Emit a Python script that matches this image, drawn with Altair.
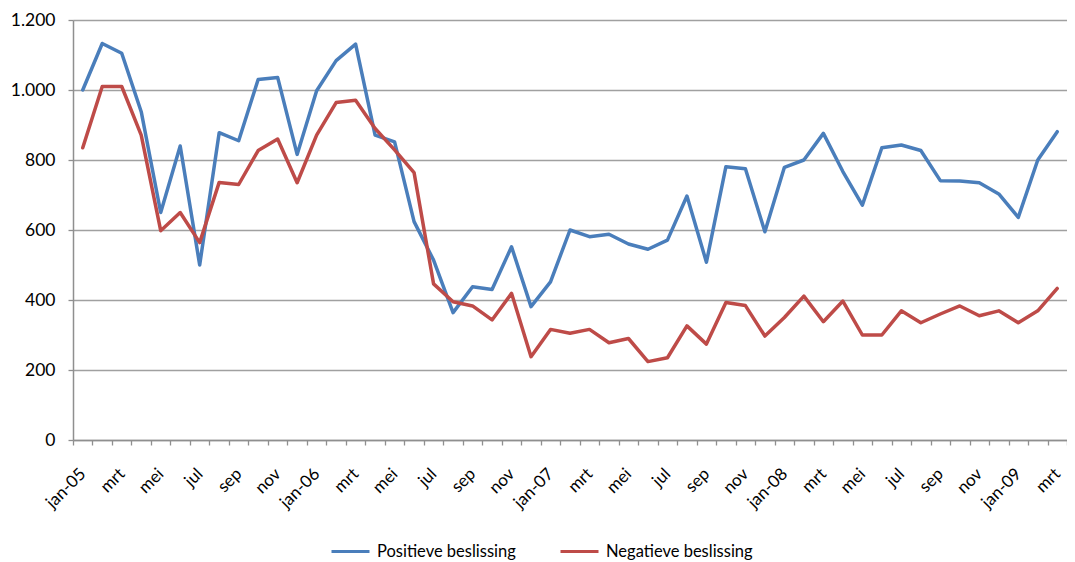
import altair as alt
import pandas as pd

months = ["jan-05", "feb", "mrt", "apr", "mei", "jun", "jul", "aug", "sep", "okt", "nov", "dec",
          "jan-06", "feb", "mrt", "apr", "mei", "jun", "jul", "aug", "sep", "okt", "nov", "dec",
          "jan-07", "feb", "mrt", "apr", "mei", "jun", "jul", "aug", "sep", "okt", "nov", "dec",
          "jan-08", "feb", "mrt", "apr", "mei", "jun", "jul", "aug", "sep", "okt", "nov", "dec",
          "jan-09", "feb", "mrt"]

positief = [1000, 1133, 1105, 938, 650, 840, 500, 878, 855, 1030, 1036, 816,
            998, 1084, 1131, 871, 852, 624, 514, 364, 438, 430, 552, 381,
            452, 600, 581, 588, 560, 545, 571, 697, 508, 781, 775, 595,
            779, 800, 876, 767, 671, 835, 843, 827, 741, 740, 735, 703,
            636, 800, 881]

negatief = [835, 1010, 1010, 871, 598, 650, 564, 736, 730, 827, 860, 735,
            871, 964, 971, 890, 829, 764, 446, 395, 383, 343, 419, 238,
            316, 305, 316, 278, 290, 224, 235, 326, 274, 393, 384, 297,
            350, 411, 338, 397, 300, 300, 369, 335, 360, 383, 355, 369,
            335, 369, 433]

series = ["Positieve beslissing", "Negatieve beslissing"]
colors = ["#4A7EBB", "#BE4B48"]

rows = []
for i, m in enumerate(months):
    rows.append({"idx": i, "maand": m, "reeks": series[0], "aantal": positief[i]})
    rows.append({"idx": i, "maand": m, "reeks": series[1], "aantal": negatief[i]})
df = pd.DataFrame(rows)

shown = [m if i % 2 == 0 else "" for i, m in enumerate(months)]
label_expr = "[" + ",".join("'" + s + "'" for s in shown) + "][datum.value]"

FONT = "Lato"
GRAY = "#8f8f8f"

chart = alt.Chart(df).mark_line(strokeWidth=3.5, strokeJoin="round", strokeCap="round").encode(
    x=alt.X("idx:O",
            scale=alt.Scale(type="band", paddingInner=0, paddingOuter=0),
            axis=alt.Axis(title=None, labelExpr=label_expr, labelAngle=-45,
                          labelAlign="right", labelBaseline="middle",
                          labelOverlap=False, tickBand="extent", tickSize=5,
                          tickColor=GRAY, tickWidth=1.3, domainColor=GRAY,
                          domainWidth=1.5, labelFontSize=17, labelColor="#000000",
                          labelFont=FONT, labelPadding=26, grid=False)),
    y=alt.Y("aantal:Q",
            scale=alt.Scale(domain=[0, 1200], nice=False),
            axis=alt.Axis(title=None, values=[0, 200, 400, 600, 800, 1000, 1200],
                          labelExpr="replace(format(datum.value, ','), ',', '.')",
                          tickSize=5, tickColor=GRAY, tickWidth=1.3,
                          domainColor=GRAY, domainWidth=1.5,
                          gridColor="#a0a0a0", gridWidth=1.5,
                          labelFontSize=17.5, labelColor="#000000", labelFont=FONT,
                          labelPadding=13)),
    color=alt.Color("reeks:N",
                    scale=alt.Scale(domain=series, range=colors),
                    sort=series,
                    legend=alt.Legend(title=None, orient="none", legendX=257, legendY=511,
                                      direction="horizontal", symbolType="stroke",
                                      symbolSize=1444, symbolStrokeWidth=3,
                                      labelFontSize=16.5, labelFont=FONT,
                                      labelColor="#000000", labelOffset=6,
                                      columnPadding=38)),
    order=alt.Order("idx:Q"),
).properties(
    width=994, height=420,
    padding={"left": 65, "top": 12, "right": 0, "bottom": 122},
    autosize=alt.AutoSizeParams(type="none"),
).configure_view(stroke=None)

chart.save("out.html", embed_options={"renderer": "svg", "actions": False})
